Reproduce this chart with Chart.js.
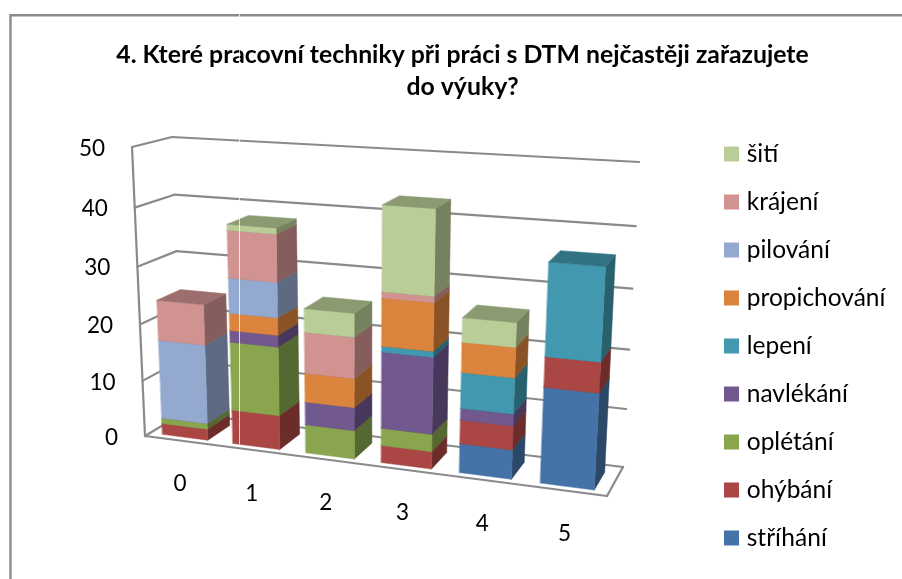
<!DOCTYPE html>
<html><head><meta charset="utf-8">
<style>html,body{margin:0;padding:0;background:#fff}#w{width:902px;height:579px;position:relative}</style>
<script src="https://cdn.jsdelivr.net/npm/chart.js@4"></script>
</head><body><div id="w"><canvas id="c" width="902" height="579"></canvas></div>
<script>
const categories = ['0','1','2','3','4','5'];
const yTicks = [0,10,20,30,40,50];
const titleLines = ['4. Které pracovní techniky při práci s DTM nejčastěji zařazujete','do výuky?'];
const seriesNames = ['stříhání','ohýbání','oplétání','navlékání','lepení','propichování','pilování','krájení','šití'];
const seriesColors = ['#4572A7','#AA4643','#89A54E','#71588F','#4198AF','#DB843D','#93A9CF','#D19392','#B9CD96'];
const strihani      = [0,0,0,0,5,16];
const ohybani       = [2,6,0,3,4,5];
const opletani      = [1,12,5,3,0,0];
const navlekani     = [0,2,4,13,2,0];
const lepeni        = [0,0,0,1,6,15];
const propichovani  = [0,3,5,8,5,0];
const pilovani      = [14,6,0,0,0,0];
const krajeni       = [7,8,7,1,0,0];
const siti          = [0,1,4,14,4,0];
const seriesValues = [strihani,ohybani,opletani,navlekani,lepeni,propichovani,pilovani,krajeni,siti];

// view of the 3D box: floor-left, floor-right, top-right, top-left of the front and back planes
const frontQuad = [[145,436],[607,496],[624,177],[132,147]];
const backQuad  = [[183,413],[623,467],[639,162],[172,137]];
const depthNear = 0.14, depthFar = 0.76;

function homography(q){
  const [p0,p1,p2,p3]=q;
  const dx1=p1[0]-p2[0],dx2=p3[0]-p2[0],sx=p0[0]-p1[0]+p2[0]-p3[0];
  const dy1=p1[1]-p2[1],dy2=p3[1]-p2[1],sy=p0[1]-p1[1]+p2[1]-p3[1];
  const den=dx1*dy2-dx2*dy1;
  const g=(sx*dy2-dx2*sy)/den,h=(dx1*sy-sx*dy1)/den;
  const a=p1[0]-p0[0]+g*p1[0],b=p3[0]-p0[0]+h*p3[0],d=p1[1]-p0[1]+g*p1[1],e=p3[1]-p0[1]+h*p3[1];
  return (u,v)=>{const w=g*u+h*v+1;return [(a*u+b*v+p0[0])/w,(d*u+e*v+p0[1])/w];};
}
const hFront=homography(frontQuad), hBack=homography(backQuad);
function project(chart,px,py,depth){
  const A=chart.chartArea;
  const u=(px-A.left)/(A.right-A.left), v=(A.bottom-py)/(A.bottom-A.top);
  const f=hFront(u,v), b=hBack(u,v);
  return [f[0]+(b[0]-f[0])*depth, f[1]+(b[1]-f[1])*depth];
}
function shade(hex,k){
  const n=parseInt(hex.slice(1),16);
  return 'rgb('+[(n>>16)&255,(n>>8)&255,n&255].map(c=>Math.round(c*k)).join(',')+')';
}
function face(ctx,pts,color){
  ctx.beginPath();pts.forEach((p,i)=>i?ctx.lineTo(p[0],p[1]):ctx.moveTo(p[0],p[1]));ctx.closePath();
  ctx.fillStyle=color;ctx.fill();ctx.strokeStyle=color;ctx.lineWidth=0.5;ctx.stroke();
}
function line(ctx,a,b){ctx.beginPath();ctx.moveTo(a[0],a[1]);ctx.lineTo(b[0],b[1]);ctx.stroke();}

const box3d = {
  id:'box3d',
  afterLayout(chart){
    const L=chart.legend;
    const pad=L.options.labels.padding;
    const dx=728.5-(L.left+pad);
    L.left+=dx;L.right+=dx;
    const rows=seriesNames.length, h=rows*(L.options.labels.font.size+pad)-pad;
    const top=346-h/2-pad;
    L.top=top;L.bottom=top+h+2*pad;
  },
  beforeDatasetsDraw(chart){
    const ctx=chart.ctx,A=chart.chartArea,ys=chart.scales.y,xs=chart.scales.x;
    ctx.save();
    // chart frame
    ctx.strokeStyle='#8c8c8c';ctx.lineWidth=2.4;
    ctx.beginPath();ctx.moveTo(10.5,579);ctx.lineTo(10.5,15.2);ctx.lineTo(902,15.2);ctx.stroke();
    // walls and floor
    ctx.strokeStyle='#8a8a8a';ctx.lineWidth=2.2;ctx.lineCap='round';
    const yv=t=>ys.getPixelForValue(t);
    ys.ticks.forEach(t=>{
      const py=yv(t.value);
      line(ctx,project(chart,A.left,py,0),project(chart,A.left,py,1));
      line(ctx,project(chart,A.left,py,1),project(chart,A.right,py,1));
    });
    line(ctx,project(chart,A.left,yv(0),0),project(chart,A.left,yv(50),0));
    line(ctx,project(chart,A.left,yv(0),0),project(chart,A.right,yv(0),0));
    line(ctx,project(chart,A.right,yv(0),0),project(chart,A.right,yv(0),1));
    // bars, from the chart's own bar elements
    categories.forEach((_,i)=>{
      chart.data.datasets.forEach((ds,k)=>{
        if(!ds.data[i]) return;
        const el=chart.getDatasetMeta(k).data[i];
        const x0=el.x-el.width/2,x1=el.x+el.width/2,yT=el.y,yB=el.base;
        const P=(x,y,d)=>project(chart,x,y,d);
        const col=seriesColors[k];
        face(ctx,[P(x1,yB,depthNear),P(x1,yB,depthFar),P(x1,yT,depthFar),P(x1,yT,depthNear)],shade(col,0.63));
        face(ctx,[P(x0,yB,depthNear),P(x1,yB,depthNear),P(x1,yT,depthNear),P(x0,yT,depthNear)],col);
        face(ctx,[P(x0,yT,depthNear),P(x1,yT,depthNear),P(x1,yT,depthFar),P(x0,yT,depthFar)],shade(col,0.75));
      });
    });
    // hairline seam of the source picture
    ctx.strokeStyle='rgba(255,255,255,0.75)';ctx.lineWidth=1;
    ctx.beginPath();ctx.moveTo(239.5,14);ctx.lineTo(239.5,444);ctx.stroke();
    // axis labels
    ctx.fillStyle='#000';ctx.font='22.5px Lato';ctx.textBaseline='middle';
    ctx.textAlign='right';
    ys.ticks.forEach(t=>{
      const p=project(chart,A.left,yv(t.value),0);
      ctx.fillText(String(t.value),p[0]-27,p[1]+1.5);
    });
    ctx.textAlign='center';
    categories.forEach((c,i)=>{
      const p=project(chart,xs.getPixelForValue(i),yv(0),0);
      ctx.fillText(c,p[0],p[1]+43.5);
    });
    ctx.restore();
    return false;
  }
};

new Chart(document.getElementById('c'),{
  type:'bar',
  data:{labels:categories,datasets:seriesNames.map((n,k)=>({label:n,data:seriesValues[k],backgroundColor:seriesColors[k],borderColor:seriesColors[k],borderWidth:9}))},
  plugins:[box3d],
  options:{
    responsive:false,animation:false,
    layout:{padding:{left:23,top:39,bottom:0,right:0}},
    scales:{
      x:{stacked:true,display:false,offset:true},
      y:{stacked:true,display:false,min:0,max:50,afterBuildTicks(s){s.ticks=yTicks.map(v=>({value:v}));}}
    },
    datasets:{bar:{categoryPercentage:0.8,barPercentage:0.81}},
    plugins:{
      title:{display:true,text:titleLines,color:'#000',font:{family:'Lato',size:24.8,weight:'bold',lineHeight:1.29},padding:{top:0,bottom:0}},
      legend:{position:'right',reverse:true,labels:{font:{family:'Lato',size:24.5},color:'#000',boxWidth:6,boxHeight:6,padding:23.5}},
      tooltip:{enabled:false}
    }
  }
});
</script></body></html>
